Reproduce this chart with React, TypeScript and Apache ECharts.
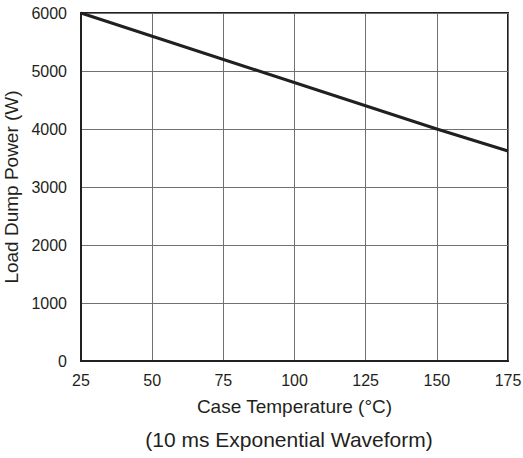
import React, { useEffect, useRef } from "react";
import * as echarts from "echarts";

const temps = [25, 150, 175];
const power = [6000, 4000, 3620];

export default function App() {
  const ref = useRef<HTMLDivElement>(null);
  useEffect(() => {
    if (!ref.current) return;
    const chart = echarts.init(ref.current, undefined, { renderer: "svg" });
    const font = "Liberation Sans, Arial, Helvetica, sans-serif";
    const ink = "#231f20";
    chart.setOption({
      animation: false,
      grid: {
        left: 81,
        right: 15,
        top: 13,
        bottom: 97,
        containLabel: false,
        outerBoundsMode: "none",
        show: true,
        borderColor: ink,
        borderWidth: 2,
        backgroundColor: "transparent",
      },
      xAxis: {
        type: "value",
        min: 25,
        max: 175,
        interval: 25,
        name: "Case Temperature (°C)",
        nameLocation: "middle",
        nameGap: 36,
        nameTextStyle: { fontFamily: font, fontSize: 19, color: ink },
        axisLine: { show: true, onZero: false, lineStyle: { color: ink, width: 2 } },
        axisTick: { show: false },
        axisLabel: { fontFamily: font, fontSize: 16, color: ink, margin: 11 },
        splitLine: { show: true, lineStyle: { color: "#707070", width: 1 } },
      },
      yAxis: {
        type: "value",
        min: 0,
        max: 6000,
        interval: 1000,
        name: "Load Dump Power (W)",
        nameLocation: "middle",
        nameGap: 56,
        nameTextStyle: { fontFamily: font, fontSize: 19, color: ink },
        axisLine: { show: true, lineStyle: { color: ink, width: 2 } },
        axisTick: { show: false },
        axisLabel: {
          fontFamily: font,
          fontSize: 16,
          color: ink,
          margin: 14,
          formatter: (v: number) => String(v),
        },
        splitLine: { show: true, lineStyle: { color: "#707070", width: 1 } },
      },
      graphic: [
        {
          type: "text",
          x: 289,
          y: 439,
          style: {
            text: "(10 ms Exponential Waveform)",
            fontFamily: font,
            fontSize: 21,
            fill: ink,
            align: "center",
            verticalAlign: "middle",
          },
        },
      ],
      series: [
        {
          type: "line",
          data: temps.map((t, i) => [t, power[i]]),
          showSymbol: false,
          lineStyle: { color: ink, width: 3 },
        },
      ],
    });
    return () => chart.dispose();
  }, []);
  return <div ref={ref} style={{ width: 523, height: 458, position: "absolute", left: 0, top: 0 }} />;
}
